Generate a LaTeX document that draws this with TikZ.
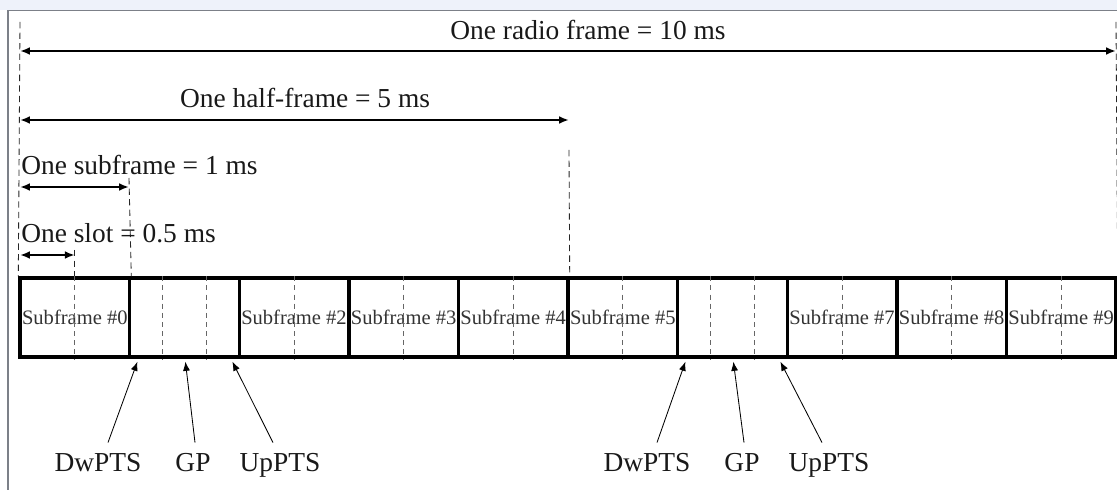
\documentclass[tikz,border=0pt]{standalone}
\usepackage{fontspec}
\setmainfont{Liberation Serif}
\usetikzlibrary{arrows.meta,calc}

\definecolor{band}{HTML}{EEF2FA}
\definecolor{framegrey}{HTML}{7C8088}

\tikzset{
  dimarrow/.style={{Latex[length=7pt,width=5.5pt]}-{Latex[length=7pt,width=5.5pt]}, line width=1.4pt},
  guide/.style={dash pattern=on 4.5pt off 3pt, line width=0.6pt, draw=black!85},
  slotline/.style={dash pattern=on 3.5pt off 3pt, line width=0.5pt, draw=black!60},
  sfbox/.style={draw, line width=2.4pt, minimum width=2.74cm, minimum height=1.975cm,
    inner sep=0pt, font=\fontsize{14.6}{15}\selectfont, text=black!80},
  dimlabel/.style={anchor=base, inner sep=0pt, font=\fontsize{19.5}{21}\selectfont, text=black!90},
  ptr/.style={-{Latex[length=6.5pt,width=5pt]}, line width=0.6pt},
}

\begin{document}
\begin{tikzpicture}[x=0.025cm, y=-0.025cm]
  \useasboundingbox (0,0) rectangle (1117,490);
  \fill[white] (0,0) rectangle (1117,490);
  \fill[band] (0,0) rectangle (1117,10);
  \draw[framegrey, line width=0.8pt] (8,490) -- (8,10.5) -- (1117,10.5);

  % the ten subframes, 1 and 6 are the special ones
  \foreach \i in {0,...,9}
    \node[sfbox] (sf\i) at ({74.8+109.6*\i},317.5)
      {\ifnum\i=1 \else\ifnum\i=6 \else Subframe \#\i\fi\fi};

  % slot borders
  \foreach \i in {0,2,3,4,5,7,8,9}
    \draw[slotline] (sf\i.north) -- (sf\i.south);
  \foreach \i in {1,6} {
    \draw[slotline] ($(sf\i.north west)+(34,0)$) -- ($(sf\i.south west)+(34,0)$);
    \draw[slotline] ($(sf\i.north west)+(78,0)$) -- ($(sf\i.south west)+(78,0)$);
  }

  % guide lines
  \coordinate (g0) at (20,22);
  \coordinate (g10) at (1116,22);
  \coordinate (g5) at (569,150);
  \coordinate (g1) at (129,178);
  \coordinate (gs) at (74.8,250);
  \draw[guide] (g0) -- (sf0.north west);
  \draw[guide] (g10) -- (sf9.north east);
  \draw[guide] (g5) -- (sf4.north east);
  \draw[guide] (g1) -- (sf0.north east);
  \draw[guide] (gs) -- (sf0.north);

  % durations
  \coordinate (yfr) at (0,51);
  \coordinate (yhf) at (0,120);
  \coordinate (ysf) at (0,187);
  \coordinate (ysl) at (0,255);
  \node[dimlabel] (lfr) at (588,40) {One radio frame = 10 ms};
  \node[dimlabel] (lhf) at (305,108) {One half-frame = 5 ms};
  \node[dimlabel, anchor=base west] (lsf) at (21,175) {One subframe = 1 ms};
  \node[dimlabel, anchor=base west] (lsl) at (21,243) {One slot = 0.5 ms};
  \draw[dimarrow] (g0 |- yfr) -- (g10 |- yfr);
  \draw[dimarrow] (g0 |- yhf) -- (g5 |- yhf);
  \draw[dimarrow] (g0 |- ysf) -- (g1 |- ysf);
  \draw[dimarrow] (g0 |- ysl) -- (gs |- ysl);

  % fields of the special subframes
  \foreach \k/\s/\x in {1/1/98, 2/6/647} {
    \node[dimlabel] (dw\k) at (\x,472) {DwPTS};
    \node[dimlabel] (gp\k) at (\x+95,472) {GP};
    \node[dimlabel] (up\k) at (\x+182,472) {UpPTS};
    \draw[ptr] ($(dw\k.north)+(10,-11)$) -- ($(sf\s.south west)+(9.5,3)$);
    \draw[ptr] ($(gp\k.north)+(2,-11)$) -- ($(sf\s.south)+(1,3)$);
    \draw[ptr] ($(up\k.north)+(-7,-11)$) -- ($(sf\s.south east)+(-8.5,3)$);
  }
\end{tikzpicture}
\end{document}
